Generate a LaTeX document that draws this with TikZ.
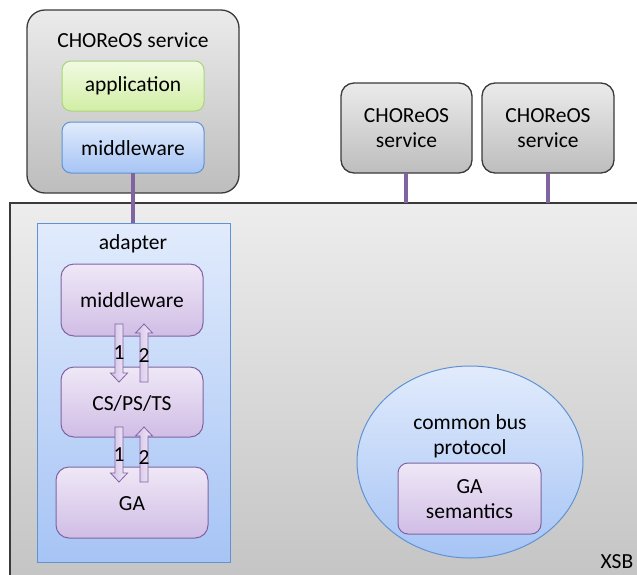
\documentclass[tikz,border=0pt]{standalone}
\usepackage{fontspec}
\setmainfont{Carlito}
\usetikzlibrary{shapes.geometric}
\definecolor{greytop}{HTML}{EBEBEB}
\definecolor{greybot}{HTML}{BDBDBD}
\definecolor{greyline}{HTML}{3A3A3A}
\definecolor{greentop}{HTML}{F1FAE2}
\definecolor{greenbot}{HTML}{D2EEA5}
\definecolor{greenline}{HTML}{A9D47C}
\definecolor{bluetop}{HTML}{E1EBFC}
\definecolor{bluebot}{HTML}{A6C4F5}
\definecolor{blueline}{HTML}{5F93D3}
\definecolor{purptop}{HTML}{EFE8F7}
\definecolor{purpbot}{HTML}{D0BDE5}
\definecolor{purpline}{HTML}{8064A2}
\definecolor{xsbtop}{HTML}{EDEDED}
\definecolor{xsbbot}{HTML}{C2C2C2}
\begin{document}
\begin{tikzpicture}[x=1pt,y=-1pt,
  every node/.style={font=\fontsize{21.5}{25}\selectfont, inner sep=0pt},
  greybox/.style={draw=greyline, line width=1.3pt, rounded corners=18pt, top color=greytop, bottom color=greybot},
  greenbox/.style={draw=greenline, line width=1pt, rounded corners=9pt, top color=greentop, bottom color=greenbot},
  bluebox/.style={draw=blueline, line width=1pt, rounded corners=9pt, top color=bluetop, bottom color=bluebot},
  purpbox/.style={draw=purpline, line width=1pt, rounded corners=13pt, top color=purptop, bottom color=purpbot},
  link/.style={draw=purpline, line width=4pt},
  blockarrow/.style={draw=purpline, line width=0.8pt, left color=purpbot, right color=purptop, middle color=purptop!60!purpbot}
]
\useasboundingbox (0,0) rectangle (637,574);
\begin{scope}
\clip (0,0) rectangle (637,574);
% XSB
\draw[draw=greyline, line width=2pt, top color=xsbtop, bottom color=xsbbot] (10,203) rectangle (660,600);
\end{scope}
\node[anchor=center] (xsb) at (617,562) {XSB};

% Main service
\draw[greybox] (27,10) rectangle (239,193);
\node (svctitle) at (133,40) {CHOReOS service};
\draw[greenbox] (62,61) rectangle (204,111);
\node (app) at (133,86) {application};
\draw[bluebox] (62,122) rectangle (204,173);
\node (mw) at (133,148) {middleware};
\coordinate (mwbot) at (133,173);

% Right services
\draw[greybox, rounded corners=13pt] (341,83) rectangle (472,173);
\node[align=center] (svc2) at (406.5,128) {CHOReOS\\service};
\draw[greybox, rounded corners=13pt] (482,83) rectangle (614,173);
\node[align=center] (svc3) at (548,128) {CHOReOS\\service};
\coordinate (s2b) at (406,173);
\coordinate (s3b) at (548,173);
\coordinate (s2x) at (406,203);
\coordinate (s3x) at (548,203);
\draw[link] (s2b) -- (s2x);
\draw[link] (s3b) -- (s3x);

% Adapter
\draw[draw=blueline, line width=1pt, top color=bluetop, bottom color=bluebot] (37,223) rectangle (230,562);
\coordinate (adtop) at (133,223);
\draw[link] (mwbot) -- (adtop);
\node (adapter) at (133,244) {adapter};
\draw[purpbox] (61,264) rectangle (203,336);
\node (mw2) at (132,300) {middleware};
\draw[purpbox] (61,367) rectangle (203,437);
\node (cs) at (132,403) {CS/PS/TS};
\draw[purpbox] (56,467) rectangle (208,538);
\node (ga) at (132,504) {GA};

% block arrows
\newcommand{\downarr}[3]{% x, ytop, ytip
  \draw[blockarrow] (#1-4,#2) -- (#1+4,#2) -- (#1+4,#3-9) -- (#1+8.5,#3-9) -- (#1,#3) -- (#1-8.5,#3-9) -- (#1-4,#3-9) -- cycle;}
\newcommand{\uparr}[3]{% x, ybottom, ytip
  \draw[blockarrow] (#1-4,#2) -- (#1+4,#2) -- (#1+4,#3+9) -- (#1+8.5,#3+9) -- (#1,#3) -- (#1-8.5,#3+9) -- (#1-4,#3+9) -- cycle;}
\downarr{119}{324}{382}
\uparr{144}{382}{324}
\downarr{119}{427}{482}
\uparr{144}{482}{427}
\node (l1a) at (119,353) {1};
\node (l2a) at (144,356) {2};
\node (l1b) at (119,455) {1};
\node (l2b) at (144,458) {2};

% common bus protocol
\draw[draw=blueline, line width=1pt, top color=bluetop, bottom color=bluebot] (470,462) ellipse [x radius=113, y radius=96];
\node[align=center] (cbp) at (470,436) {common bus\\protocol};
\draw[purpbox, rounded corners=10pt] (398,463) rectangle (541,534);
\node[align=center] (gas) at (469.5,499) {GA\\semantics};
\end{tikzpicture}
\end{document}
